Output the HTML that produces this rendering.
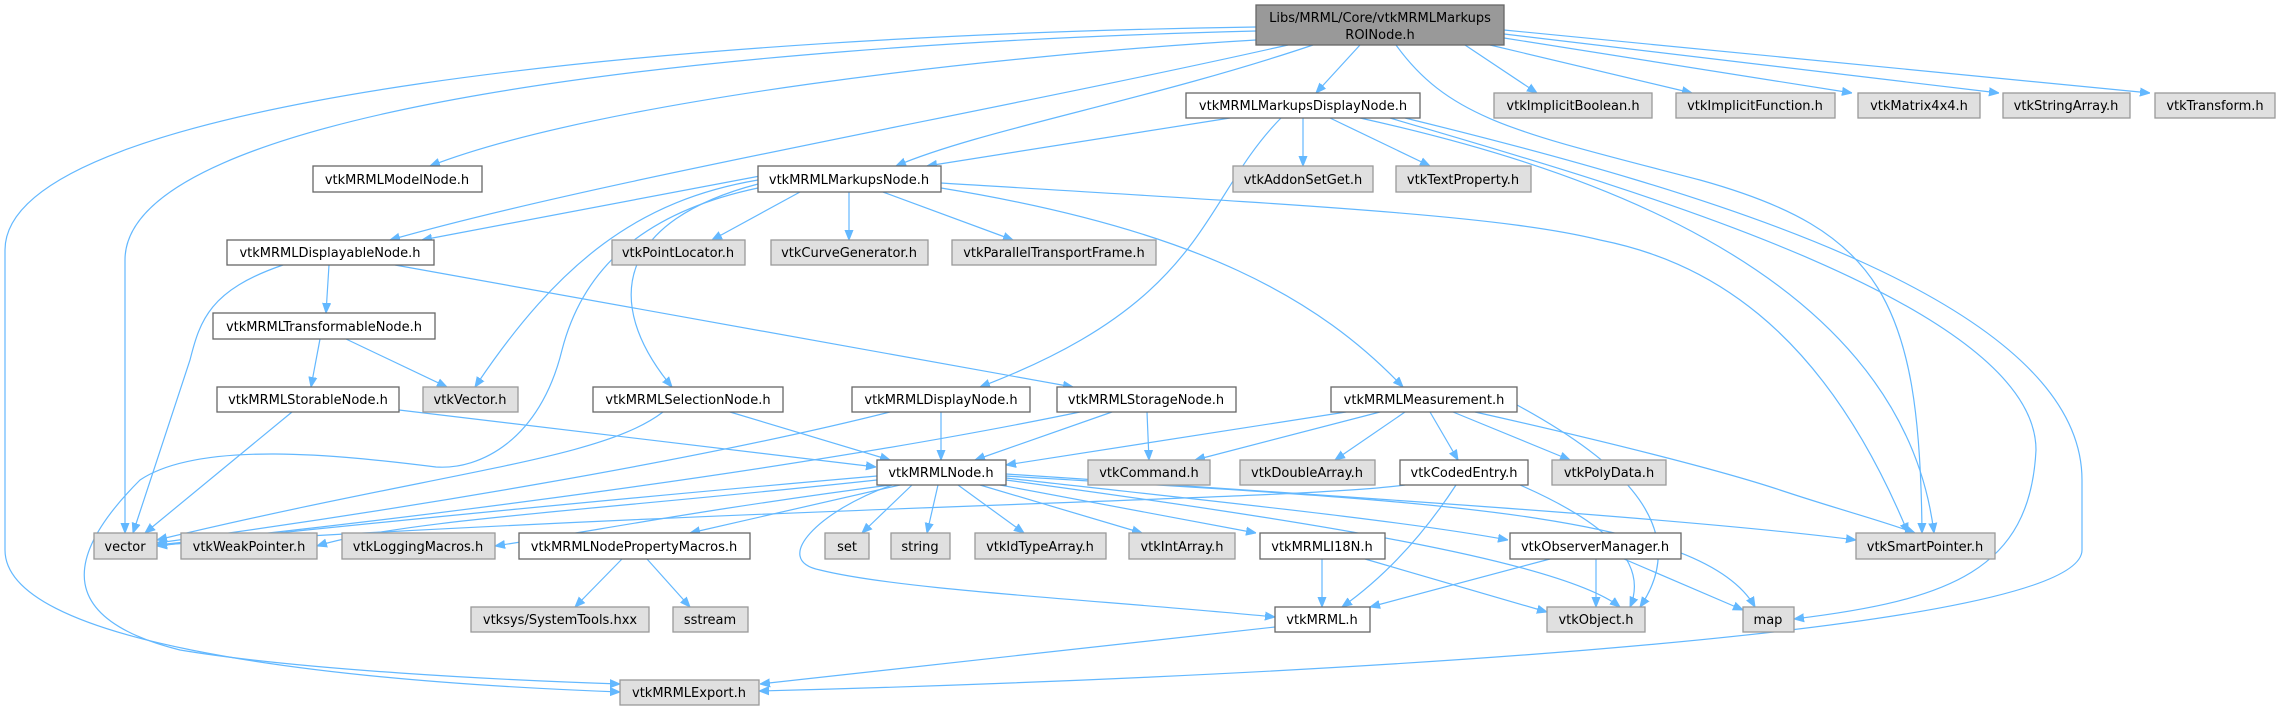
<!DOCTYPE html>
<html><head><meta charset="utf-8"><style>
html,body{margin:0;padding:0;background:#fff;}
svg{display:block;}
text{font-family:"DejaVu Sans","Liberation Sans",sans-serif;font-size:13px;fill:#000;}
.e{fill:none;stroke:#63b8ff;stroke-width:1.2;}
.w{fill:#fff;stroke:#666;stroke-width:1.3;}
.g{fill:#e0e0e0;stroke:#999;stroke-width:1.3;}
</style></head><body>
<svg width="2281" height="711" viewBox="0 0 2281 711" xmlns="http://www.w3.org/2000/svg">
<defs><marker id="a" viewBox="0 0 10 10" refX="10" refY="5" markerWidth="10" markerHeight="10" markerUnits="userSpaceOnUse" orient="auto"><path d="M0,1 L10,5 L0,9 z" fill="#63b8ff" stroke="#63b8ff"/></marker></defs>
<g marker-end="url(#a)">
<path class="e" d="M1256,27 C700,35 5,95 5,250 L5,550 C5,640 300,680 620,692"/>
<path class="e" d="M1256,31 C700,45 125,110 125,260 L125,533"/>
<path class="e" d="M1256,40 C1000,55 600,100 430,166"/>
<path class="e" d="M1288,45 C1000,110 600,180 390,240"/>
<path class="e" d="M1313,45 C1150,100 980,130 896,166"/>
<path class="e" d="M1360,45 L1316,93"/>
<path class="e" d="M1396,45 C1450,120 1520,133 1700,180 C1880,230 1920,300 1922,533"/>
<path class="e" d="M1465,45 L1537,93"/>
<path class="e" d="M1490,45 L1692,93"/>
<path class="e" d="M1504,38 L1852,93"/>
<path class="e" d="M1504,34 L1999,93"/>
<path class="e" d="M1504,30 L2150,93"/>
<path class="e" d="M1230,118 L927,166"/>
<path class="e" d="M1281,118 C1200,200 1210,300 980,387"/>
<path class="e" d="M1303,118 L1303,166"/>
<path class="e" d="M1330,118 L1430,166"/>
<path class="e" d="M1360,118 C1550,160 1900,260 1934,533"/>
<path class="e" d="M1390,118 C1600,180 2036,300 2036,450 C2030,570 1950,600 1794,619"/>
<path class="e" d="M1405,118 C1700,190 2082,300 2082,480 L2082,550 C2082,640 1200,680 759,691"/>
<path class="e" d="M760,176 L422,240"/>
<path class="e" d="M800,192 L712,240"/>
<path class="e" d="M849,192 L849,240"/>
<path class="e" d="M883,192 L1013,240"/>
<path class="e" d="M941,183 C1300,205 1500,215 1600,240 C1700,260 1820,320 1908,533"/>
<path class="e" d="M941,188 C1200,230 1320,300 1403,387"/>
<path class="e" d="M758,180 C640,200 560,260 475,387"/>
<path class="e" d="M758,184 C620,220 600,300 672,387"/>
<path class="e" d="M758,188 C630,215 580,280 562,350 C540,440 480,470 436,467 C340,455 200,440 140,480 C60,560 60,620 180,650 C300,670 500,680 620,684"/>
<path class="e" d="M283,265 C210,290 200,320 190,360 L133,533"/>
<path class="e" d="M329,265 L326,313"/>
<path class="e" d="M395,265 L1073,387"/>
<path class="e" d="M346,339 L447,387"/>
<path class="e" d="M320,339 L311,387"/>
<path class="e" d="M292,412 L145,533"/>
<path class="e" d="M399,410 L876,467"/>
<path class="e" d="M663,412 C600,460 450,470 157,540"/>
<path class="e" d="M730,412 L890,460"/>
<path class="e" d="M941,412 L941,460"/>
<path class="e" d="M890,412 C700,460 400,510 157,543"/>
<path class="e" d="M1112,412 L975,460"/>
<path class="e" d="M1147,412 L1149,460"/>
<path class="e" d="M1080,412 C800,470 400,520 157,545"/>
<path class="e" d="M1346,412 L1006,465"/>
<path class="e" d="M1380,412 L1195,460"/>
<path class="e" d="M1405,412 L1335,460"/>
<path class="e" d="M1430,412 L1458,460"/>
<path class="e" d="M1453,412 L1570,460"/>
<path class="e" d="M1475,412 C1600,440 1720,470 1780,490 C1840,510 1880,520 1915,533"/>
<path class="e" d="M1517,405 C1600,450 1700,520 1640,607"/>
<path class="e" d="M1405,485 C1300,500 800,505 157,545"/>
<path class="e" d="M1456,485 C1420,540 1380,580 1342,607"/>
<path class="e" d="M1520,485 C1600,520 1650,560 1630,607"/>
<path class="e" d="M877,476 C600,500 300,530 157,546"/>
<path class="e" d="M877,480 C600,510 400,520 317,546"/>
<path class="e" d="M890,485 C700,510 600,530 495,546"/>
<path class="e" d="M900,485 L690,533"/>
<path class="e" d="M912,485 L862,533"/>
<path class="e" d="M938,485 L927,533"/>
<path class="e" d="M958,485 L1024,533"/>
<path class="e" d="M980,485 L1142,533"/>
<path class="e" d="M1000,485 L1256,533"/>
<path class="e" d="M1006,478 C1200,500 1400,520 1508,540"/>
<path class="e" d="M1006,474 C1400,500 1700,520 1856,540"/>
<path class="e" d="M1006,480 C1300,520 1560,560 1620,607"/>
<path class="e" d="M1006,476 C1400,500 1700,510 1755,607"/>
<path class="e" d="M892,485 C820,510 770,560 820,570 C900,590 1100,600 1275,617"/>
<path class="e" d="M622,559 L575,607"/>
<path class="e" d="M647,559 L690,607"/>
<path class="e" d="M1322,559 L1322,607"/>
<path class="e" d="M1365,559 L1547,612"/>
<path class="e" d="M1550,559 L1370,607"/>
<path class="e" d="M1596,559 L1596,607"/>
<path class="e" d="M1624,559 L1743,610"/>
<path class="e" d="M1275,627 L760,684"/>
</g>
<rect x="1256" y="5" width="248" height="40" fill="#999" stroke="#666" stroke-width="1.3"/>
<text x="1380" y="22" text-anchor="middle">Libs/MRML/Core/vtkMRMLMarkups</text>
<text x="1380" y="39" text-anchor="middle">ROINode.h</text>
<g>
<rect class="w" x="1186" y="93" width="234" height="25"/><text x="1303" y="110" text-anchor="middle">vtkMRMLMarkupsDisplayNode.h</text>
<rect class="g" x="1494" y="93" width="158" height="25"/><text x="1573" y="110" text-anchor="middle">vtkImplicitBoolean.h</text>
<rect class="g" x="1676" y="93" width="159" height="25"/><text x="1755" y="110" text-anchor="middle">vtkImplicitFunction.h</text>
<rect class="g" x="1858" y="93" width="122" height="25"/><text x="1919" y="110" text-anchor="middle">vtkMatrix4x4.h</text>
<rect class="g" x="2003" y="93" width="127" height="25"/><text x="2066" y="110" text-anchor="middle">vtkStringArray.h</text>
<rect class="g" x="2155" y="93" width="120" height="25"/><text x="2215" y="110" text-anchor="middle">vtkTransform.h</text>
<rect class="w" x="313" y="166" width="169" height="26"/><text x="397" y="184" text-anchor="middle">vtkMRMLModelNode.h</text>
<rect class="w" x="758" y="166" width="183" height="26"/><text x="849" y="184" text-anchor="middle">vtkMRMLMarkupsNode.h</text>
<rect class="g" x="1233" y="166" width="140" height="26"/><text x="1303" y="184" text-anchor="middle">vtkAddonSetGet.h</text>
<rect class="g" x="1396" y="166" width="135" height="26"/><text x="1463" y="184" text-anchor="middle">vtkTextProperty.h</text>
<rect class="w" x="227" y="240" width="207" height="25"/><text x="330" y="257" text-anchor="middle">vtkMRMLDisplayableNode.h</text>
<rect class="g" x="612" y="240" width="133" height="25"/><text x="678" y="257" text-anchor="middle">vtkPointLocator.h</text>
<rect class="g" x="771" y="240" width="157" height="25"/><text x="849" y="257" text-anchor="middle">vtkCurveGenerator.h</text>
<rect class="g" x="952" y="240" width="204" height="25"/><text x="1054" y="257" text-anchor="middle">vtkParallelTransportFrame.h</text>
<rect class="w" x="213" y="313" width="222" height="26"/><text x="324" y="331" text-anchor="middle">vtkMRMLTransformableNode.h</text>
<rect class="w" x="217" y="387" width="182" height="25"/><text x="308" y="404" text-anchor="middle">vtkMRMLStorableNode.h</text>
<rect class="g" x="423" y="387" width="95" height="25"/><text x="470" y="404" text-anchor="middle">vtkVector.h</text>
<rect class="w" x="593" y="387" width="190" height="25"/><text x="688" y="404" text-anchor="middle">vtkMRMLSelectionNode.h</text>
<rect class="w" x="852" y="387" width="178" height="25"/><text x="941" y="404" text-anchor="middle">vtkMRMLDisplayNode.h</text>
<rect class="w" x="1057" y="387" width="179" height="25"/><text x="1146" y="404" text-anchor="middle">vtkMRMLStorageNode.h</text>
<rect class="w" x="1331" y="387" width="186" height="25"/><text x="1424" y="404" text-anchor="middle">vtkMRMLMeasurement.h</text>
<rect class="w" x="877" y="460" width="129" height="25"/><text x="941" y="477" text-anchor="middle">vtkMRMLNode.h</text>
<rect class="g" x="1088" y="460" width="122" height="25"/><text x="1149" y="477" text-anchor="middle">vtkCommand.h</text>
<rect class="g" x="1240" y="460" width="135" height="25"/><text x="1307" y="477" text-anchor="middle">vtkDoubleArray.h</text>
<rect class="w" x="1400" y="460" width="128" height="25"/><text x="1464" y="477" text-anchor="middle">vtkCodedEntry.h</text>
<rect class="g" x="1552" y="460" width="114" height="25"/><text x="1609" y="477" text-anchor="middle">vtkPolyData.h</text>
<rect class="g" x="94" y="533" width="63" height="26"/><text x="125" y="551" text-anchor="middle">vector</text>
<rect class="g" x="181" y="533" width="136" height="26"/><text x="249" y="551" text-anchor="middle">vtkWeakPointer.h</text>
<rect class="g" x="342" y="533" width="153" height="26"/><text x="418" y="551" text-anchor="middle">vtkLoggingMacros.h</text>
<rect class="w" x="519" y="533" width="231" height="26"/><text x="634" y="551" text-anchor="middle">vtkMRMLNodePropertyMacros.h</text>
<rect class="g" x="825" y="533" width="44" height="26"/><text x="847" y="551" text-anchor="middle">set</text>
<rect class="g" x="891" y="533" width="59" height="26"/><text x="920" y="551" text-anchor="middle">string</text>
<rect class="g" x="975" y="533" width="131" height="26"/><text x="1040" y="551" text-anchor="middle">vtkIdTypeArray.h</text>
<rect class="g" x="1129" y="533" width="106" height="26"/><text x="1182" y="551" text-anchor="middle">vtkIntArray.h</text>
<rect class="w" x="1260" y="533" width="125" height="26"/><text x="1322" y="551" text-anchor="middle">vtkMRMLI18N.h</text>
<rect class="w" x="1510" y="533" width="171" height="26"/><text x="1595" y="551" text-anchor="middle">vtkObserverManager.h</text>
<rect class="g" x="1856" y="533" width="139" height="26"/><text x="1925" y="551" text-anchor="middle">vtkSmartPointer.h</text>
<rect class="g" x="471" y="607" width="178" height="25"/><text x="560" y="624" text-anchor="middle">vtksys/SystemTools.hxx</text>
<rect class="g" x="673" y="607" width="75" height="25"/><text x="710" y="624" text-anchor="middle">sstream</text>
<rect class="w" x="1275" y="607" width="95" height="25"/><text x="1322" y="624" text-anchor="middle">vtkMRML.h</text>
<rect class="g" x="1547" y="607" width="98" height="25"/><text x="1596" y="624" text-anchor="middle">vtkObject.h</text>
<rect class="g" x="1743" y="607" width="51" height="25"/><text x="1768" y="624" text-anchor="middle">map</text>
<rect class="g" x="620" y="680" width="139" height="25"/><text x="689" y="697" text-anchor="middle">vtkMRMLExport.h</text>
</g>
</svg>
</body></html>
